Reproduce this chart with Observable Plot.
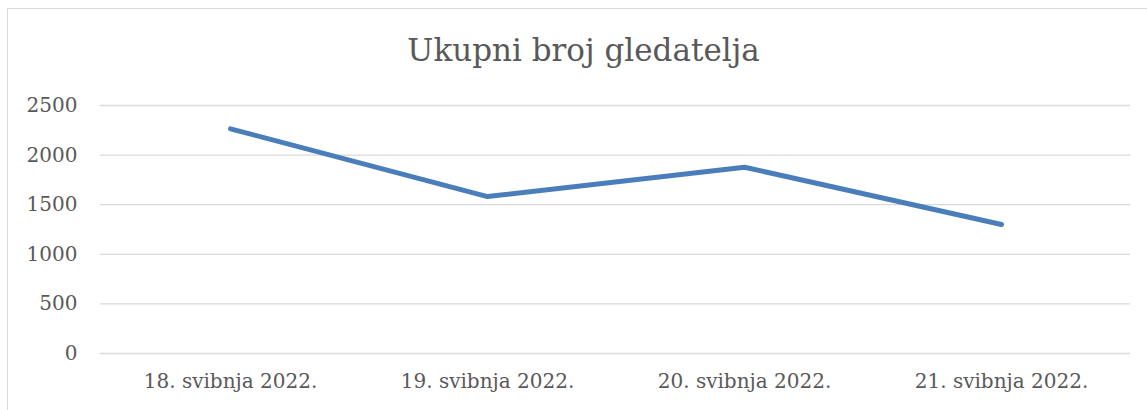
<!DOCTYPE html>
<html>
<head>
<meta charset="utf-8">
<script src="https://cdn.jsdelivr.net/npm/d3@7"></script>
<script src="https://cdn.jsdelivr.net/npm/@observablehq/plot@0.6"></script>
<style>
  html, body { margin: 0; padding: 0; background: #fff; overflow: hidden; }
  #wrap { position: relative; width: 1147px; height: 410px; overflow: hidden; }
  #border { position: absolute; left: 7px; top: 8px; width: 2000px; height: 2000px; border: 1px solid #d9d9d9; pointer-events: none; }
  #chart svg { display: block; }
</style>
</head>
<body>
<div id="wrap"><div id="chart"></div><div id="border"></div></div>
<script>
const title = "Ukupni broj gledatelja";
const dates = ["18. svibnja 2022.", "19. svibnja 2022.", "20. svibnja 2022.", "21. svibnja 2022."];
const viewers = [2265, 1582, 1878, 1300];
const yTicks = [0, 500, 1000, 1500, 2000, 2500];

const data = dates.map((d, i) => ({date: d, value: viewers[i]}));
const font = "'DejaVu Serif', 'Liberation Serif', serif";

const chart = Plot.plot({
  width: 1147,
  height: 410,
  marginLeft: 100,
  marginRight: 17,
  marginTop: 105,
  marginBottom: 57,
  style: {fontFamily: font, color: "#595959", background: "transparent"},
  x: {type: "point", domain: dates, padding: 0.5, label: null},
  y: {domain: [0, 2500], ticks: yTicks, label: null},
  marks: [
    Plot.gridY(yTicks, {stroke: "#d9d9d9", strokeOpacity: 1, strokeWidth: 1.3}),
    Plot.axisY({ticks: yTicks, tickSize: 0, tickPadding: 23, fontSize: 20, fill: "#595959", label: null, tickFormat: d => String(d)}),
    Plot.axisX({tickSize: 0, tickPadding: 20, fontSize: 20, fill: "#595959", label: null}),
    Plot.line(data, {x: "date", y: "value", stroke: "#4a7ebb", strokeWidth: 5, strokeLinecap: "round", strokeLinejoin: "round"}),
    Plot.text([title], {frameAnchor: "top", lineAnchor: "middle", dx: -32, dy: -54, text: d => d, fontSize: 31, fill: "#595959", fontFamily: font})
  ]
});
document.getElementById("chart").appendChild(chart);
</script>
</body>
</html>
